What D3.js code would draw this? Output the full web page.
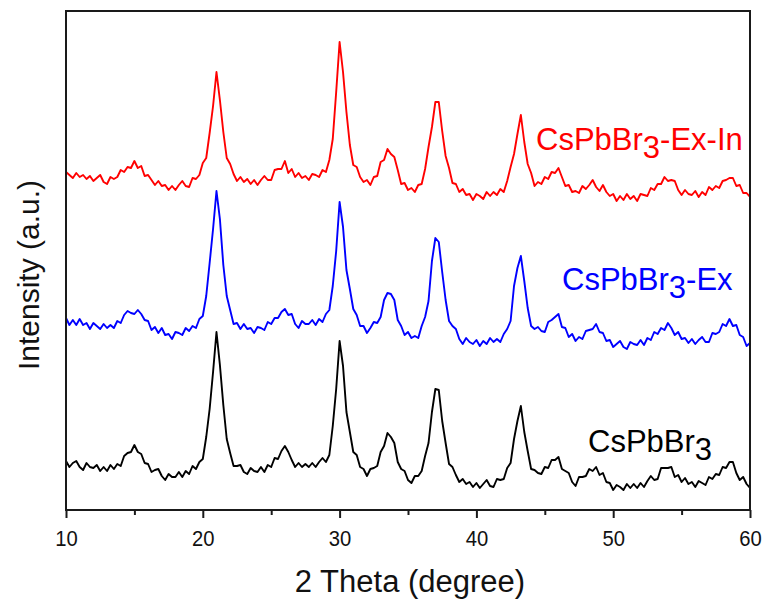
<!DOCTYPE html>
<html>
<head>
<meta charset="utf-8">
<script src="https://cdn.jsdelivr.net/npm/d3@7"></script>
<style>
  html, body { margin: 0; padding: 0; background: #fff; }
  svg { display: block; font-family: "Liberation Sans", Arial, sans-serif; }
</style>
</head>
<body>
<svg id="chart" width="766" height="601"></svg>
<script>
// 2θ sampling grid (degrees), 0.25° step from 10 to 60
const twoTheta = d3.range(0, 201).map(i => 10 + i * 0.25);

// Intensities (a.u., already vertically stacked as in the figure)
const cspbbr3 = [
48,42,46,48,42,39,46,42,41,44,38,42,38,44,40,45,43,53,56,57,
64,57,55,46,45,37,39,40,33,29,35,32,32,37,32,38,35,43,40,47,
50,72,100,137,177,144,104,70,56,43,43,44,37,35,41,38,37,42,37,44,
42,51,50,58,63,57,49,42,46,42,45,42,46,42,47,51,47,54,83,120,
168,143,97,77,57,54,42,40,33,40,41,43,57,63,76,72,66,47,40,38,
29,26,33,33,38,53,66,97,120,119,88,66,45,42,34,27,30,25,27,22,
26,21,25,29,23,22,30,29,30,41,46,70,88,103,77,58,40,39,36,35,
42,41,49,49,52,40,38,36,27,23,32,32,33,40,38,42,34,36,27,26,
19,24,22,19,25,21,25,21,26,22,28,33,29,30,41,41,41,42,32,34,
27,31,25,27,22,28,26,24,32,30,35,34,42,41,47,47,36,29,32,25,
21];

const cspbbr3Ex = [
191,184,189,184,190,184,186,180,186,183,180,185,181,184,181,188,186,194,198,196,
195,199,195,189,188,179,182,176,181,174,175,170,177,176,174,181,178,183,181,190,
193,213,246,280,318,290,244,213,199,185,186,180,185,180,181,176,182,181,179,187,
185,191,191,197,200,194,195,185,181,188,185,185,189,184,190,187,195,199,223,258,
307,282,239,220,200,194,183,183,176,181,187,186,192,209,216,215,209,189,183,174,
177,171,173,171,183,192,208,248,271,267,237,209,188,183,180,170,165,171,167,165,
169,163,168,165,171,167,170,167,175,180,188,223,241,253,228,201,183,180,182,178,
177,187,189,192,195,182,181,172,175,168,172,170,178,179,180,185,177,176,168,169,
162,165,168,162,160,167,165,164,169,164,171,169,177,175,181,179,186,181,174,177,
170,171,166,170,165,169,172,167,167,176,175,177,185,183,190,183,184,174,172,163,
166];

const cspbbr3ExIn = [
337,334,331,336,332,334,330,333,328,331,334,327,325,332,330,332,339,337,342,341,
348,341,343,333,334,329,324,328,323,324,319,323,319,324,328,323,322,331,330,334,
346,351,376,403,437,409,377,351,345,335,328,332,327,330,325,329,324,329,333,329,
329,339,340,340,348,336,340,332,336,331,333,329,335,334,332,339,337,349,370,417,
467,437,397,364,344,342,332,327,329,324,332,333,347,349,360,355,352,339,325,326,
319,321,317,324,325,340,362,382,407,407,378,353,341,326,325,317,320,314,315,309,
315,313,310,317,313,317,314,320,317,328,342,355,375,394,367,345,336,323,327,325,
332,330,337,336,341,332,323,324,317,318,316,323,320,324,329,322,318,324,317,313,
315,308,313,309,315,310,313,308,315,314,313,321,319,325,325,332,328,329,328,319,
314,319,315,314,318,312,317,314,322,319,323,321,328,329,331,331,323,324,316,316,
312];

const seriesNames = ["CsPbBr3", "CsPbBr3-Ex", "CsPbBr3-Ex-In"];
const seriesColors = ["#000000", "#0000ff", "#ff0000"];
const xTicks = [10, 20, 30, 40, 50, 60];
const xMinorTicks = [15, 25, 35, 45, 55];
const xLabel = "2 Theta (degree)";
const yLabel = "Intensity (a.u.)";

(function () {
const svg = d3.select("#chart");
const pL = 66, pR = 750, pT = 11, pB = 510;

const x = d3.scaleLinear().domain([10, 60]).range([pL, pR]);
const y = d3.scaleLinear().domain([-1, 498]).range([pB, pT]);

svg.append("defs").append("clipPath").attr("id", "clip")
  .append("rect").attr("x", pL).attr("y", pT)
  .attr("width", pR - pL).attr("height", pB - pT);

const allSeries = [cspbbr3, cspbbr3Ex, cspbbr3ExIn];
const line = d3.line().x((d, i) => x(twoTheta[i])).y(d => y(d));

const g = svg.append("g").attr("clip-path", "url(#clip)");
allSeries.forEach((s, k) => {
  g.append("path").datum(s)
    .attr("d", line)
    .attr("fill", "none")
    .attr("stroke", seriesColors[k])
    .attr("stroke-width", 1.9)
    .attr("stroke-linejoin", "round");
});

// frame
svg.append("rect").attr("x", pL).attr("y", pT)
  .attr("width", pR - pL).attr("height", pB - pT)
  .attr("fill", "none").attr("stroke", "#1a1a1a").attr("stroke-width", 2);

// bottom axis
const xAxis = d3.axisBottom(x).tickValues(xTicks).tickSize(8).tickPadding(8)
  .tickFormat(d3.format("d"));
const ax = svg.append("g").attr("transform", `translate(0,${pB})`).call(xAxis);
ax.select(".domain").remove();
ax.selectAll(".tick line").attr("stroke", "#1a1a1a").attr("stroke-width", 2);
ax.selectAll(".tick text").attr("font-size", 22).attr("fill", "#111")
  .attr("font-family", "'Liberation Sans Narrow', 'Liberation Sans', Arial, sans-serif")
  .attr("transform", "scale(0.92,1)")
  .attr("dy", "0.9em");

const minor = d3.axisBottom(x).tickValues(xMinorTicks).tickSize(5).tickFormat("");
const mx = svg.append("g").attr("transform", `translate(0,${pB})`).call(minor);
mx.select(".domain").remove();
mx.selectAll(".tick line").attr("stroke", "#1a1a1a").attr("stroke-width", 2);

// axis titles
svg.append("text").attr("x", (pL + pR) / 2 + 2).attr("y", 592)
  .attr("text-anchor", "middle").attr("font-size", 31).attr("fill", "#111")
  .text(xLabel);
svg.append("text").attr("transform", `translate(39,275) rotate(-90)`)
  .attr("text-anchor", "middle").attr("font-size", 30).attr("fill", "#111")
  .text(yLabel);

// series labels with subscript 3
const labelPos = [[588, 452], [562, 290], [536, 150]];
seriesNames.forEach((name, k) => {
  const t = svg.append("text").attr("x", labelPos[k][0]).attr("y", labelPos[k][1])
    .attr("font-size", 31).attr("fill", seriesColors[k]);
  const idx = name.indexOf("3");
  t.append("tspan").text(name.slice(0, idx));
  t.append("tspan").attr("dy", 8).text("3");
  if (idx + 1 < name.length) t.append("tspan").attr("dy", -8).text(name.slice(idx + 1));
});
})();
</script>
</body>
</html>
